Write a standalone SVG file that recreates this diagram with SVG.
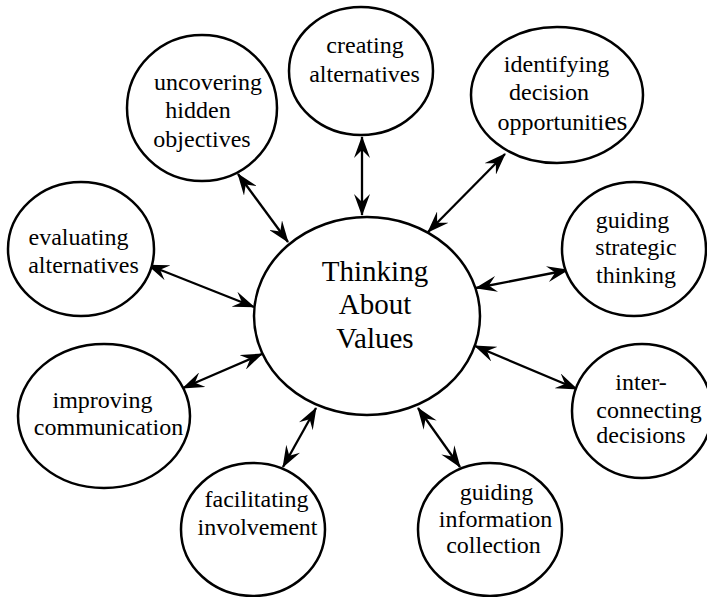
<svg xmlns="http://www.w3.org/2000/svg" width="707" height="597" viewBox="0 0 707 597">
<style>
.node ellipse{fill:#fff;stroke:#000;stroke-width:2.5}
text{font-family:'Liberation Serif',serif;fill:#000;text-anchor:middle}
#connectors line{stroke:#000;stroke-width:2.3;fill:none;marker-start:url(#ah);marker-end:url(#ah)}
</style>
<defs>
<marker id="ah" viewBox="0 0 22 16" refX="21" refY="8" markerWidth="22" markerHeight="16" markerUnits="userSpaceOnUse" orient="auto-start-reverse">
<path d="M0,0 L22,8 L0,16 L8,8 z" fill="#000"/>
</marker>
</defs>
<rect width="707" height="597" fill="#fff"/>
<g id="connectors">
<line x1="362" y1="137" x2="362" y2="215"/>
<line x1="505" y1="154" x2="428" y2="232"/>
<line x1="238" y1="174" x2="288" y2="242"/>
<line x1="148" y1="265" x2="254" y2="307"/>
<line x1="183" y1="388" x2="262" y2="354"/>
<line x1="283" y1="467" x2="316" y2="408"/>
<line x1="418" y1="408" x2="460" y2="467"/>
<line x1="475" y1="346" x2="577" y2="389"/>
<line x1="476" y1="288" x2="568" y2="270"/>
</g>
<g id="center" class="node" font-family="Liberation Serif, serif" font-size="29">
<ellipse cx="367" cy="316" rx="113" ry="99"/>
<text x="375" y="281">Thinking</text>
<text x="375" y="314">About</text>
<text x="375" y="348">Values</text>
</g>
<g id="uncovering" class="node" font-family="Liberation Serif, serif" font-size="24">
<ellipse cx="202" cy="108" rx="75" ry="73"/>
<text x="208" y="90">uncovering</text>
<text x="198" y="118">hidden</text>
<text x="202" y="147">objectives</text>
</g>
<g id="creating" class="node" font-family="Liberation Serif, serif" font-size="24">
<ellipse cx="361" cy="71" rx="72" ry="64"/>
<text x="365" y="53">creating</text>
<text x="364.5" y="82">alternatives</text>
</g>
<g id="identifying" class="node" font-family="Liberation Serif, serif" font-size="24">
<ellipse cx="557" cy="95" rx="86" ry="68"/>
<text x="556.5" y="72">identifying</text>
<text x="549" y="100">decision</text>
<text x="562.5" y="130">opportuniti<tspan font-size="28">es</tspan></text>
</g>
<g id="strategic" class="node" font-family="Liberation Serif, serif" font-size="24">
<ellipse cx="634" cy="249" rx="72" ry="67"/>
<text x="632.5" y="228">guiding</text>
<text x="636" y="255">strategic</text>
<text x="636" y="283">thinking</text>
</g>
<g id="evaluating" class="node" font-family="Liberation Serif, serif" font-size="24">
<ellipse cx="81" cy="249" rx="73" ry="67"/>
<text x="78.5" y="245">evaluating</text>
<text x="83.5" y="273">alternatives</text>
</g>
<g id="improving" class="node" font-family="Liberation Serif, serif" font-size="24">
<ellipse cx="104" cy="416" rx="86" ry="72"/>
<text x="102.5" y="408">improving</text>
<text x="108.5" y="435">communication</text>
</g>
<g id="facilitating" class="node" font-family="Liberation Serif, serif" font-size="24">
<ellipse cx="253" cy="529.5" rx="72" ry="66.5"/>
<text x="256.5" y="507">facilitating</text>
<text x="257.5" y="535">involvement</text>
</g>
<g id="information" class="node" font-family="Liberation Serif, serif" font-size="24">
<ellipse cx="490" cy="529.5" rx="72" ry="66.5"/>
<text x="496.5" y="500">guiding</text>
<text x="495.5" y="527">information</text>
<text x="493.5" y="553">collection</text>
</g>
<g id="interconnecting" class="node" font-family="Liberation Serif, serif" font-size="24">
<ellipse cx="642" cy="411" rx="70" ry="67"/>
<text x="641" y="390">inter-</text>
<text x="649" y="418">connecting</text>
<text x="641" y="443">decisions</text>
</g>
</svg>
